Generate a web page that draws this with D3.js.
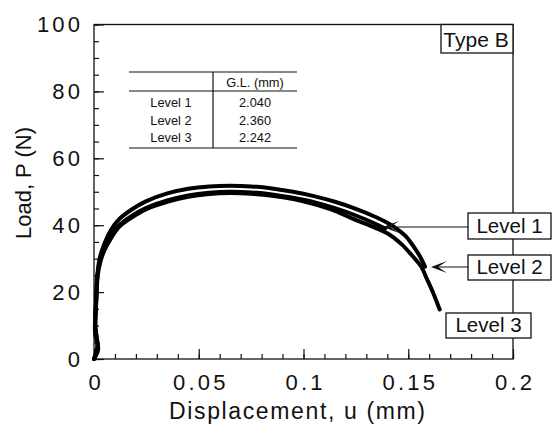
<!DOCTYPE html>
<html>
<head>
<meta charset="utf-8">
<script src="https://cdn.jsdelivr.net/npm/d3@7"></script>
<style>
  html, body { margin: 0; padding: 0; background: #fff; }
  svg { display: block; font-family: "Liberation Sans", Arial, Helvetica, sans-serif; }
</style>
</head>
<body>
<svg id="chart" width="552" height="429"></svg>
<script>
// Load–displacement curves for three gauge-length levels (Type B specimens)
const level1U = [0, 0.0018, 0.0007, 0.0011, 0.0016, 0.003, 0.005, 0.008, 0.012, 0.018, 0.025, 0.035, 0.045, 0.055, 0.065, 0.075, 0.085, 0.095, 0.105, 0.115, 0.125, 0.133, 0.139];
const level1P = [0, 3.5, 9, 18, 25, 29.5, 33.5, 37, 40, 42.8, 45.2, 47.4, 48.9, 49.7, 50.0, 49.8, 49.2, 48.2, 46.9, 45.1, 42.9, 40.8, 39.0];

const level2U = [0, 0.0020, 0.0005, 0.0010, 0.0015, 0.0025, 0.005, 0.008, 0.012, 0.018, 0.025, 0.035, 0.045, 0.055, 0.065, 0.075, 0.085, 0.095, 0.105, 0.115, 0.125, 0.135, 0.140, 0.145, 0.149, 0.153, 0.156, 0.158];
const level2P = [0, 3.0, 8, 17, 24, 29.5, 34.5, 38.5, 41.8, 44.7, 47.2, 49.5, 50.9, 51.6, 51.8, 51.6, 51.0, 50.0, 48.7, 47.0, 44.9, 42.3, 40.7, 38.7, 36.6, 33.2, 30.2, 27.6];

const level3U = [0, 0.0016, 0.0006, 0.0012, 0.0018, 0.003, 0.005, 0.008, 0.012, 0.018, 0.025, 0.035, 0.045, 0.055, 0.065, 0.075, 0.085, 0.095, 0.105, 0.115, 0.124, 0.132, 0.140, 0.147, 0.152, 0.156, 0.159, 0.162, 0.165];
const level3P = [0, 4.0, 10, 19, 25, 29, 32.5, 36, 39.5, 42.3, 44.8, 47.0, 48.5, 49.3, 49.6, 49.4, 48.8, 47.8, 46.3, 44.3, 41.8, 39.8, 37.6, 34.2, 30.8, 27.8, 23.8, 19.6, 14.8];

const xMajor = [0, 0.05, 0.1, 0.15, 0.2];
const xMinor = d3.range(0, 21).map(i => i / 100);
const yMajor = [0, 20, 40, 60, 80, 100];
const yMinor = d3.range(0, 21).map(i => i * 5);

// Inset table of gauge lengths
const tableLevels = ["Level 1", "Level 2", "Level 3"];
const tableGL = ["2.040", "2.360", "2.242"];
const tableHeader = "G.L. (mm)";

const svg = d3.select("#chart");
const plotL = 94, plotR = 513, plotT = 24.5, plotB = 359;
const x = d3.scaleLinear().domain([0, 0.2]).range([plotL, plotR]);
const y = d3.scaleLinear().domain([0, 100]).range([plotB, plotT]);

const ink = "#111";
const tickFont = 22, tickSpacing = 3.2;

// Minor ticks
svg.append("g").attr("transform", `translate(0,${plotB})`)
  .call(d3.axisBottom(x).tickValues(xMinor).tickSize(-5).tickFormat(""))
  .call(g => g.select(".domain").remove());
svg.append("g").attr("transform", `translate(${plotL},0)`)
  .call(d3.axisLeft(y).tickValues(yMinor).tickSize(-5).tickFormat(""))
  .call(g => g.select(".domain").remove());

// Major ticks with labels
const fmtX = d => d === 0 ? "0" : String(d);
svg.append("g").attr("transform", `translate(0,${plotB})`)
  .call(d3.axisBottom(x).tickValues(xMajor).tickSize(-10).tickPadding(15).tickFormat(fmtX))
  .call(g => g.select(".domain").remove())
  .call(g => g.selectAll("text")
    .attr("font-size", tickFont).attr("letter-spacing", tickSpacing)
    .attr("dx", tickSpacing / 2).attr("fill", ink)
    .attr("font-family", "'Liberation Sans', Arial, sans-serif"));
svg.append("g").attr("transform", `translate(${plotL},0)`)
  .call(d3.axisLeft(y).tickValues(yMajor).tickSize(-10).tickPadding(14))
  .call(g => g.select(".domain").remove())
  .call(g => g.selectAll("text")
    .attr("font-size", tickFont).attr("letter-spacing", tickSpacing)
    .attr("dx", tickSpacing).attr("fill", ink)
    .attr("font-family", "'Liberation Sans', Arial, sans-serif"));
svg.selectAll(".tick line").attr("stroke", ink).attr("stroke-width", 1.2);

// Plot frame
svg.append("rect")
  .attr("x", plotL).attr("y", plotT)
  .attr("width", plotR - plotL).attr("height", plotB - plotT)
  .attr("fill", "none").attr("stroke", ink).attr("stroke-width", 1.3);

// Curves
const line = d3.line()
  .x(d => x(d[0])).y(d => y(d[1]))
  .curve(d3.curveCatmullRom.alpha(0.5));
const series = [
  d3.zip(level1U, level1P),
  d3.zip(level2U, level2P),
  d3.zip(level3U, level3P)
];
svg.append("g").selectAll("path").data(series).join("path")
  .attr("d", line)
  .attr("fill", "none").attr("stroke", "#000")
  .attr("stroke-width", 4)
  .attr("stroke-linejoin", "round").attr("stroke-linecap", "round");

// Axis titles
svg.append("text")
  .attr("x", 297).attr("y", 419)
  .attr("text-anchor", "middle")
  .attr("font-size", 23).attr("fill", ink)
  .attr("textLength", 256).attr("lengthAdjust", "spacing")
  .text("Displacement, u (mm)");
svg.append("text")
  .attr("transform", "translate(31,183) rotate(-90)")
  .attr("text-anchor", "middle")
  .attr("font-size", 22).attr("fill", ink)
  .text("Load, P (N)");

// Type B label box
const typeBox = svg.append("g");
typeBox.append("rect")
  .attr("x", 441).attr("y", plotT).attr("width", plotR - 441).attr("height", 28.5)
  .attr("fill", "#fff").attr("stroke", ink).attr("stroke-width", 1.3);
typeBox.append("text")
  .attr("x", 476).attr("y", 46.5).attr("text-anchor", "middle")
  .attr("font-size", 21).attr("fill", ink)
  .text("Type B");

// Inset table
const tbl = svg.append("g").attr("stroke", ink).attr("stroke-width", 1.2);
tbl.append("line").attr("x1", 129).attr("x2", 297).attr("y1", 72).attr("y2", 72);
tbl.append("line").attr("x1", 129).attr("x2", 297).attr("y1", 91).attr("y2", 91);
tbl.append("line").attr("x1", 129).attr("x2", 297).attr("y1", 148).attr("y2", 148);
tbl.append("line").attr("x1", 213).attr("x2", 213).attr("y1", 72).attr("y2", 148);
const tt = svg.append("g").attr("font-size", 12.8).attr("fill", ink).attr("text-anchor", "middle");
tt.append("text").attr("x", 255).attr("y", 87).text(tableHeader);
tableLevels.forEach((lv, i) => {
  tt.append("text").attr("x", 171).attr("y", 107 + i * 17.5).text(lv);
  tt.append("text").attr("x", 255).attr("y", 107 + i * 17.5).text(tableGL[i]);
});

// Callout labels with arrows
const callouts = [
  { name: "Level 1", bx: 468, by: 213, bw: 83, bh: 26, tip: [383, 227] },
  { name: "Level 2", bx: 468, by: 255, bw: 83, bh: 25, tip: [431, 267] },
  { name: "Level 3", bx: 446, by: 313, bw: 85, bh: 25, tip: null }
];
callouts.forEach(c => {
  const g = svg.append("g");
  if (c.tip) {
    g.append("line")
      .attr("x1", c.tip[0] + 4).attr("y1", c.tip[1])
      .attr("x2", c.bx).attr("y2", c.tip[1])
      .attr("stroke", ink).attr("stroke-width", 1.2);
    const [tx, ty] = c.tip;
    g.append("path")
      .attr("d", `M${tx},${ty} L${tx + 16},${ty - 6} L${tx + 7},${ty} L${tx + 16},${ty + 6} Z`)
      .attr("fill", ink);
  }
  g.append("rect")
    .attr("x", c.bx).attr("y", c.by).attr("width", c.bw).attr("height", c.bh)
    .attr("fill", "#fff").attr("stroke", ink).attr("stroke-width", 1.3);
  g.append("text")
    .attr("x", c.bx + c.bw / 2).attr("y", c.by + c.bh - 6)
    .attr("text-anchor", "middle")
    .attr("font-size", 20.5).attr("fill", ink)
    .text(c.name);
});
</script>
</body>
</html>
